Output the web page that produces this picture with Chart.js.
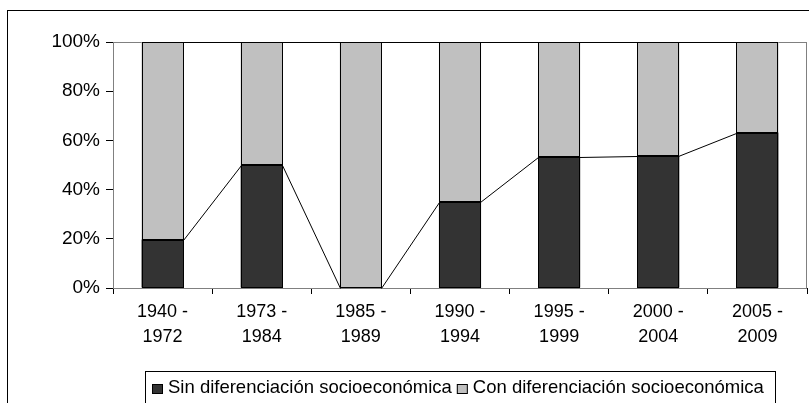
<!DOCTYPE html>
<html>
<head>
<meta charset="utf-8">
<script src="https://cdn.jsdelivr.net/npm/chart.js@4"></script>
<style>
  html, body { margin: 0; padding: 0; background: #fff; }
  #wrap { position: relative; width: 809px; height: 403px; overflow: hidden; }
  canvas { display: block; }
</style>
</head>
<body>
<div id="wrap"><canvas id="c" width="809" height="403"></canvas></div>
<script>
// ---- data ----
const categories = [['1940 -', '1972'], ['1973 -', '1984'], ['1985 -', '1989'], ['1990 -', '1994'], ['1995 -', '1999'], ['2000 -', '2004'], ['2005 -', '2009']];
const sinDiferenciacion = [19.7, 49.8, 0, 34.8, 53.4, 53.7, 63.2];
const conDiferenciacion = [80.3, 50.2, 100, 65.2, 46.6, 46.3, 36.8];
const seriesNames = ['Sin diferenciación socioeconómica', 'Con diferenciación socioeconómica'];
const yTicks = [0, 20, 40, 60, 80, 100];

const FONT = '"Liberation Sans", Arial, sans-serif';
const px = v => Math.round(v) + 0.5;

const framePlugin = {
  id: 'frame',
  beforeDatasetsDraw(chart) {
    const { ctx, chartArea: a } = chart;
    ctx.save();
    ctx.strokeStyle = '#808080';
    ctx.lineWidth = 1;
    ctx.strokeRect(px(a.left), px(a.top), Math.round(a.right - a.left) - 1, Math.round(a.bottom - a.top));
    ctx.restore();
  },
  afterDatasetsDraw(chart) {
    const { ctx } = chart;
    ctx.save();
    ctx.strokeStyle = '#000';
    ctx.lineWidth = 1;
    chart.data.datasets.forEach((ds, di) => {
      chart.getDatasetMeta(di).data.forEach(b => {
        const l = px(b.x - b.width / 2), r = px(b.x + b.width / 2) - 1;
        const t = px(Math.min(b.y, b.base)), btm = px(Math.max(b.y, b.base)) - 1;
        if (btm > t) ctx.strokeRect(l, t, r - l, btm - t);
      });
    });
    chart.data.datasets.forEach((ds, di) => {
      const els = chart.getDatasetMeta(di).data;
      for (let i = 0; i < els.length - 1; i++) {
        const a = els[i], b = els[i + 1];
        ctx.beginPath();
        ctx.moveTo(px(a.x + a.width / 2) - 1, px(a.y));
        ctx.lineTo(px(b.x - b.width / 2), px(b.y));
        ctx.stroke();
      }
    });
    ctx.restore();
  },
  afterDraw(chart) {
    const { ctx } = chart;
    ctx.save();
    ctx.strokeStyle = '#000';
    ctx.lineWidth = 1;
    ctx.strokeRect(7.5, 10.5, 900, 500);
    ctx.strokeRect(145.5, 371.5, 630, 60);
    ctx.font = '18.5px ' + FONT;
    ctx.textBaseline = 'alphabetic';
    let x = 152;
    chart.data.datasets.forEach((ds) => {
      ctx.fillStyle = ds.backgroundColor;
      ctx.fillRect(x, 384, 11, 10);
      ctx.strokeStyle = '#000';
      ctx.strokeRect(x + 0.5, 384.5, 10, 9);
      ctx.fillStyle = '#000';
      ctx.fillText(ds.label, x + 16, 392.5);
      x += 16 + ctx.measureText(ds.label).width + 5;
    });
    ctx.restore();
  }
};

new Chart(document.getElementById('c'), {
  type: 'bar',
  data: {
    labels: categories,
    datasets: [
      { label: seriesNames[0], data: sinDiferenciacion, backgroundColor: '#333333', borderWidth: 0 },
      { label: seriesNames[1], data: conDiferenciacion, backgroundColor: '#c0c0c0', borderWidth: 0 }
    ]
  },
  options: {
    responsive: false,
    animation: false,
    devicePixelRatio: 1,
    categoryPercentage: 1,
    barPercentage: 0.425,
    layout: { padding: { top: 42, right: 2, left: 0, bottom: 0 } },
    plugins: { legend: { display: false }, tooltip: { enabled: false }, title: { display: false } },
    scales: {
      x: {
        stacked: true,
        afterFit(s) { s.height = 115; },
        grid: { offset: true, drawOnChartArea: false, drawTicks: true, tickLength: 6, tickColor: '#000' },
        border: { color: '#000', width: 1 },
        ticks: { color: '#000', autoSkip: false, maxRotation: 0, padding: 6, font: { family: FONT, size: 18, lineHeight: 1.39 } }
      },
      y: {
        stacked: true,
        min: 0, max: 100,
        afterFit(s) { s.width = 113; },
        afterBuildTicks(s) { s.ticks = yTicks.map(v => ({ value: v })); },
        grid: { drawOnChartArea: false, drawTicks: true, tickLength: 7, tickColor: '#000' },
        border: { color: '#000', width: 1 },
        ticks: { color: '#000', padding: 6, font: { family: FONT, size: 19 }, callback: v => v + '%' }
      }
    }
  },
  plugins: [framePlugin]
});
</script>
</body>
</html>
